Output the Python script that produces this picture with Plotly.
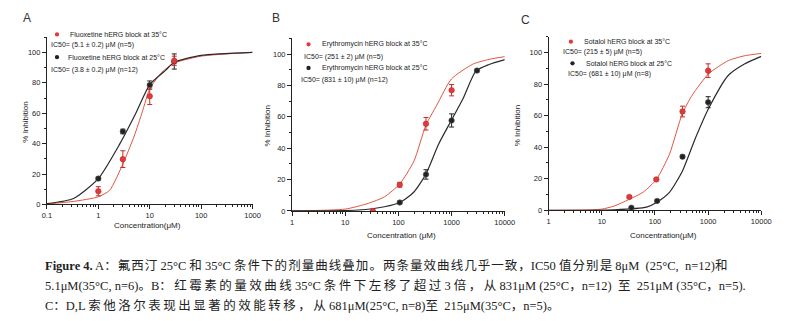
import plotly.graph_objects as go

W, H = 802, 321

# ---------------- data ----------------
# Panel A: Fluoxetine
A_conc = [1, 3, 10, 30]
A_35 = [8.7, 29.8, 71.2, 94.5]
A_35_err = [3, 5.5, 5.5, 3]
A_25 = [17, 48, 78.5, 94]
A_25_err = [1, 1.5, 2.7, 5]
A_fit35_x = [0.1, 0.33, 1, 1.66, 2.99, 4.99, 7.19, 10, 17.3, 30, 100, 1000]
A_fit35_y = [0.3, 2, 5, 9.3, 26.5, 45, 61, 76, 87, 93, 97.5, 100]
A_fit25_x = [0.1, 0.33, 1, 2.58, 5.36, 10, 20, 30, 100, 1000]
A_fit25_y = [0.5, 3.9, 17, 39.5, 60, 78.8, 88, 93.5, 98, 100]

# Panel B: Erythromycin
B_conc35 = [33, 106, 330, 1000]
B_35 = [0, 16.7, 55.6, 77]
B_35_err = [0, 1.5, 4, 3.6]
B_conc25 = [106, 330, 1000, 3000]
B_25 = [5.4, 23.3, 57.7, 89.5]
B_25_err = [0.8, 3, 4.2, 0.8]
B_fit35_x = [1, 10, 26.9, 54.7, 106, 196, 330, 526, 995, 2505, 5070, 10000]
B_fit35_y = [0, 1.2, 4.8, 9.0, 17.2, 31.8, 54.8, 67.4, 84.2, 93.6, 96.7, 98.4]
B_fit25_x = [1, 17.6, 54.7, 106, 196, 330, 566, 995, 1637, 2880, 5070, 10000]
B_fit25_y = [0, 0.6, 2.7, 5.4, 12.1, 23.6, 42.4, 57.9, 71.5, 89.3, 93.4, 96.5]

# Panel C: Sotalol
C_conc35 = [33, 106, 330, 1000]
C_35 = [8.5, 19.6, 62.6, 88.5]
C_35_err = [0.8, 0.8, 3.4, 4.3]
C_conc25 = [36, 110, 330, 1000]
C_25 = [1.7, 6, 34, 68.5]
C_25_err = [0.5, 0.5, 1, 3.5]
C_fit35_x = [1, 4.1, 10, 16.9, 32, 60.4, 106, 187, 329, 503, 1020, 2385, 4820, 10000]
C_fit35_y = [0, 0.2, 0.8, 2.7, 6.8, 11.6, 19.5, 35.5, 61.5, 73, 86.5, 94.8, 97.9, 99.4]
C_fit25_x = [1, 16.9, 69.5, 109, 187, 329, 578, 1020, 2385, 4820, 10000]
C_fit25_y = [0, 0.4, 2.1, 5.2, 11.4, 25, 45.8, 64.5, 85.4, 92.7, 97.5]

A_xticks = [0.1, 1, 10, 100, 1000]
A_xlabels = ["0.1", "1", "10", "100", "1000"]
BC_xticks = [1, 10, 100, 1000, 10000]
BC_xlabels = ["1", "10", "100", "1000", "10000"]
y_ticks = [0, 20, 40, 60, 80, 100]

legend_A = ["Fluoxetine hERG block at 35°C", "IC50= (5.1 ± 0.2) μM (n=5)",
            "Fluoxetine hERG block at 25°C", "IC50= (3.8 ± 0.2) μM (n=12)"]
legend_B = ["Erythromycin hERG block at 35°C", "IC50= (251 ± 2) μM (n=5)",
            "Erythromycin hERG block at 25°C", "IC50= (831 ± 10) μM (n=12)"]
legend_C = ["Sotalol hERG block at 35°C", "IC50= (215 ± 5) μM (n=5)",
            "Sotalol hERG block at 25°C", "IC50= (681 ± 10) μM (n=8)"]

caption = [
    "<b>Figure 4.</b> A：氟西汀 25°C 和 35°C 条件下的剂量曲线叠加。两条量效曲线几乎一致，IC50 值分别是 8μM  (25°C,  n=12)和",
    "5.1μM(35°C, n=6)。B：红霉素的量效曲线 35°C 条件下左移了超过 3 倍，从 831μM (25°C，n=12)  至  251μM (35°C，n=5).",
    "C：D,L 索他洛尔表现出显著的效能转移，从 681μM(25°C, n=8)至  215μM(35°C，n=5)。",
]

RED_LINE = "#e0553f"
RED_MK = "#e03a3a"
BLK_LINE = "#2a2a2a"
BLK_MK = "#222222"
SANS = "Liberation Sans, Arial, sans-serif"

fig = go.Figure()

panels = [
    dict(xl=42.7, xr=252.3, y0=207.7, ppu=1.545, xr_log=[-1, 3],
         xt=A_xticks, xlab=A_xlabels,
         f35=(A_fit35_x, A_fit35_y), f25=(A_fit25_x, A_fit25_y),
         p35=(A_conc, A_35, A_35_err), p25=(A_conc, A_25, A_25_err)),
    dict(xl=292.5, xr=509.3, y0=214.3, ppu=1.593, xr_log=[0, 4],
         xt=BC_xticks, xlab=BC_xlabels,
         f35=(B_fit35_x, B_fit35_y), f25=(B_fit25_x, B_fit25_y),
         p35=(B_conc35, B_35, B_35_err), p25=(B_conc25, B_25, B_25_err)),
    dict(xl=554.0, xr=770.7, y0=213.7, ppu=1.604, xr_log=[0, 4],
         xt=BC_xticks, xlab=BC_xlabels,
         f35=(C_fit35_x, C_fit35_y), f25=(C_fit25_x, C_fit25_y),
         p35=(C_conc35, C_35, C_35_err), p25=(C_conc25, C_25, C_25_err)),
]

YMAX = 110
layout_axes = {}
for i, p in enumerate(panels):
    n = "" if i == 0 else str(i + 1)
    xa, ya = "x" + n, "y" + n
    ytop = p["y0"] - YMAX * p["ppu"]
    lo, hi = p["xr_log"]
    minor_vals = [m * 10 ** d for d in range(lo, hi) for m in range(2, 10)]
    layout_axes["xaxis" + n] = dict(
        type="log", range=[lo, hi], domain=[p["xl"] / W, p["xr"] / W],
        anchor=ya, showgrid=False, zeroline=False, showline=True,
        linecolor="#222", linewidth=1, ticks="outside", ticklen=4,
        tickcolor="#222", tickwidth=1, tickmode="array", tickvals=p["xt"],
        ticktext=p["xlab"], tickfont=dict(family=SANS, size=7.5, color="#222"),
        minor=dict(tickmode="array", tickvals=minor_vals, ticks="outside",
                   ticklen=2, tickcolor="#222", tickwidth=1),
    )
    layout_axes["yaxis" + n] = dict(
        range=[0, YMAX], domain=[1 - p["y0"] / H, 1 - ytop / H], anchor=xa,
        showgrid=False, zeroline=False, showline=True, linecolor="#222",
        linewidth=1, ticks="outside", ticklen=4, tickcolor="#222", tickwidth=1,
        tickmode="array", tickvals=y_ticks,
        tickfont=dict(family=SANS, size=7.5, color="#222"),
        minor=dict(dtick=10, tick0=0, ticks="outside", ticklen=2,
                   tickcolor="#222", tickwidth=1),
    )
    fig.add_trace(go.Scatter(x=p["f35"][0], y=p["f35"][1], mode="lines",
                             line=dict(color=RED_LINE, width=1, shape="spline", smoothing=0.6),
                             xaxis=xa, yaxis=ya, showlegend=False, hoverinfo="skip"))
    fig.add_trace(go.Scatter(x=p["f25"][0], y=p["f25"][1], mode="lines",
                             line=dict(color=BLK_LINE, width=1.2, shape="spline", smoothing=0.6),
                             xaxis=xa, yaxis=ya, showlegend=False, hoverinfo="skip"))
    fig.add_trace(go.Scatter(x=p["p25"][0], y=p["p25"][1], mode="markers",
                             marker=dict(color=BLK_MK, size=5.5, line=dict(color="#555", width=0.6)),
                             error_y=dict(type="data", array=p["p25"][2], color=BLK_MK,
                                          thickness=1, width=2.5),
                             xaxis=xa, yaxis=ya, showlegend=False))
    fig.add_trace(go.Scatter(x=p["p35"][0], y=p["p35"][1], mode="markers",
                             marker=dict(color=RED_MK, size=5.5, line=dict(color="#c02828", width=0.6)),
                             error_y=dict(type="data", array=p["p35"][2], color="#c82a2a",
                                          thickness=1, width=2.5),
                             xaxis=xa, yaxis=ya, showlegend=False))

fig.update_layout(**layout_axes)

ann = []
shapes = []


def px_ann(text, x, y, size, xanchor="left", family=SANS, color="#222", angle=0):
    ann.append(dict(text=text, x=x / W, y=1 - y / H, xref="paper", yref="paper",
                    xanchor=xanchor, yanchor="middle", showarrow=False, textangle=angle,
                    font=dict(family=family, size=size, color=color)))


def dot(x, y, color, r=2.2):
    shapes.append(dict(type="circle", xref="paper", yref="paper",
                       x0=(x - r) / W, x1=(x + r) / W, y0=1 - (y + r) / H, y1=1 - (y - r) / H,
                       fillcolor=color, line=dict(width=0)))


# panel letters
px_ann("A", 22.5, 18, 12, xanchor="center", color="#333")
px_ann("B", 276, 18, 12, xanchor="center", color="#333")
px_ann("C", 530, 20, 12, xanchor="center", color="#333")

# axis titles
px_ann("% Inhibition", 20, 124, 8, xanchor="center", angle=-90)
px_ann("% Inhibition", 266.5, 128, 8, xanchor="center", angle=-90)
px_ann("% Inhibition", 522, 128, 8, xanchor="center", angle=-90)
px_ann("Concentration(μM)", 145, 229, 8, xanchor="center")
px_ann("Concentration (μM)", 404, 239, 8, xanchor="center")
px_ann("Concentration(μM)", 671, 239, 8, xanchor="center")

# in-plot legends
dot(53, 35, RED_MK); px_ann(legend_A[0], 64, 35, 7)
px_ann(legend_A[1], 45, 45.5, 7)
dot(53, 58, BLK_MK); px_ann(legend_A[2], 62, 58, 7)
px_ann(legend_A[3], 45, 71, 7)
dot(309.3, 45, RED_MK); px_ann(legend_B[0], 321.5, 45, 7)
px_ann(legend_B[1], 303, 58.3, 7)
dot(309.3, 69, BLK_MK); px_ann(legend_B[2], 321.5, 69, 7)
px_ann(legend_B[3], 300, 81, 7)
dot(576.7, 42.3, RED_MK); px_ann(legend_C[0], 588, 42.3, 7)
px_ann(legend_C[1], 566.5, 53.3, 7)
dot(578.3, 64.3, BLK_MK); px_ann(legend_C[2], 590, 64.3, 7)
px_ann(legend_C[3], 571.5, 75, 7)

# caption (justified in the reference: CJK glyphs spaced out a little)
CAP_FONT = "Liberation Serif, Times New Roman, Noto Sans CJK SC, serif"


def is_cjk(ch):
    return ord(ch) >= 0x2E80


def spread(t, sep):
    if not sep:
        return t
    out = []
    for i, ch in enumerate(t):
        out.append(ch)
        if i + 1 < len(t) and is_cjk(ch) and is_cjk(t[i + 1]):
            out.append(sep)
    return "".join(out)


for line, yy, sep in zip(caption, [270, 290.5, 310.5], ["\u200a", "\u2009", "\u2009"]):
    px_ann(spread(line, sep), 39, yy, 12.5, family=CAP_FONT, color="#222")

fig.update_layout(
    annotations=ann, shapes=shapes,
    width=W, height=H, margin=dict(l=0, r=0, t=0, b=0),
    paper_bgcolor="white", plot_bgcolor="white", showlegend=False,
)

fig.write_html("out.html", config={"displayModeBar": False})
